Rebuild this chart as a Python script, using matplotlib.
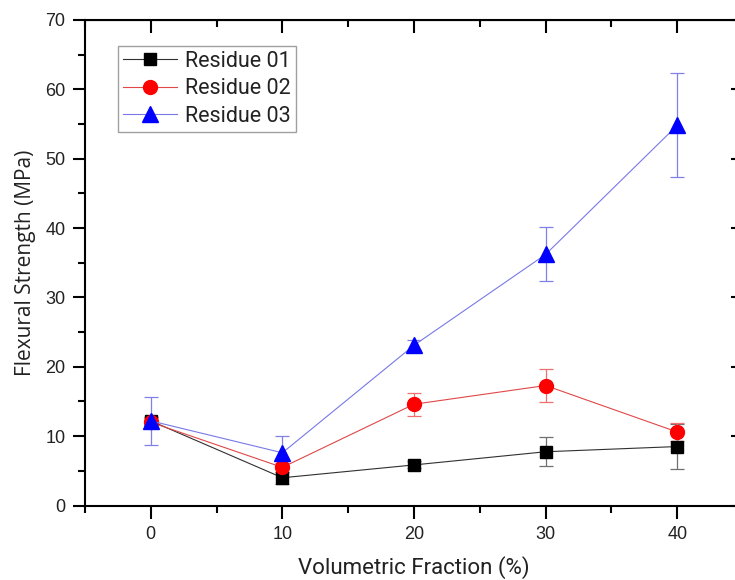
import matplotlib
matplotlib.use("Agg")
import matplotlib.pyplot as plt
from matplotlib.ticker import MultipleLocator

fracao = [0, 10, 20, 30, 40]

res01 = [12.2, 4.0, 5.85, 7.75, 8.5]
err01 = [0.6, 0.9, 0.5, 2.1, 3.2]

res02 = [12.0, 5.5, 14.6, 17.3, 10.6]
err02 = [0.6, 0.6, 1.65, 2.35, 1.3]

res03 = [12.2, 7.6, 23.1, 36.2, 54.8]
err03 = [3.45, 2.4, 0.7, 3.9, 7.5]

nomes = ["Residue 01", "Residue 02", "Residue 03"]

fig = plt.figure(figsize=(7.35, 5.8), dpi=100)
ax = fig.add_axes([85/735, 74.5/580, 658/735, 485.5/580])

# series: (valores, erros, cor, cor da linha, cor do erro, marcador, tamanho)
series = [
    (res01, err01, "black", "#303030", "#707070", "s", 8.5),
    (res02, err02, "red", "#e04848", "#ee7070", "o", 10),
    (res03, err03, "blue", "#7878e8", "#8080e8", "^", 11),
]

for (y, e, cor, cor_lin, cor_err, mk, ms), nome in zip(series, nomes):
    ax.errorbar(fracao, y, yerr=e, fmt="none", ecolor=cor_err, elinewidth=0.9,
                capsize=5, capthick=0.9, zorder=2)
    ax.plot(fracao, y, color=cor_lin, lw=0.8, marker=mk, markersize=ms,
            markerfacecolor=cor, markeredgecolor=cor, label=nome, zorder=3)

ax.set_xlim(-5, 45)
ax.set_ylim(0, 70)
ax.xaxis.set_major_locator(MultipleLocator(10))
ax.xaxis.set_minor_locator(MultipleLocator(5))
ax.yaxis.set_major_locator(MultipleLocator(10))
ax.yaxis.set_minor_locator(MultipleLocator(5))

for s in ax.spines.values():
    s.set_linewidth(1.5)

ax.tick_params(which="both", direction="out", width=1.5, labelsize=13,
               labelfontfamily="Liberation Sans", labelcolor="#222222",
               top=False, right=False)
ax.tick_params(which="major", length=9)
ax.tick_params(which="minor", length=5)
ax.tick_params(axis="x", pad=6)
ax.tick_params(axis="y", pad=5)

# ticks espelhados para dentro no topo e na direita
topo = ax.secondary_xaxis("top")
topo.xaxis.set_major_locator(MultipleLocator(10))
topo.xaxis.set_minor_locator(MultipleLocator(5))
topo.tick_params(which="both", direction="in", width=1.5, labeltop=False)
topo.tick_params(which="major", length=9)
topo.tick_params(which="minor", length=5)
dir_ = ax.secondary_yaxis("right")
dir_.yaxis.set_major_locator(MultipleLocator(10))
dir_.yaxis.set_minor_locator(MultipleLocator(5))
dir_.tick_params(which="both", direction="in", width=1.5, labelright=False)
dir_.tick_params(which="major", length=9)
dir_.tick_params(which="minor", length=5)

ax.set_xlabel("Volumetric Fraction (%)", fontsize=16, family="Roboto",
              color="#222222", labelpad=9)
ax.set_ylabel("Flexural Strength (MPa)", fontsize=15, family="Open Sans",
              color="#222222", labelpad=7)

leg = ax.legend(loc="upper left", bbox_to_anchor=(33/658, 460/485.5),
                prop={"family": "Roboto", "size": 15.5}, frameon=True,
                fancybox=False, edgecolor="#888888", borderpad=0.25,
                handlelength=2.5, labelspacing=0.3, handletextpad=0.35,
                borderaxespad=0)
leg.get_frame().set_linewidth(1.0)
for t in leg.get_texts():
    t.set_color("#222222")

fig.savefig("out.png", dpi=100)
